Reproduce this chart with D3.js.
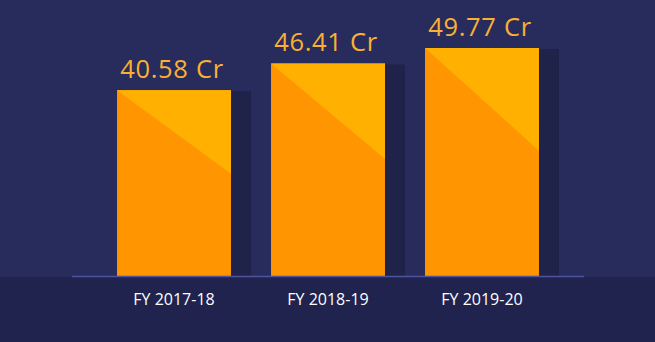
<!DOCTYPE html>
<html><head><meta charset="utf-8">
<script src="https://cdn.jsdelivr.net/npm/d3@7"></script>
<style>html,body{margin:0;padding:0;background:#272c5d;}svg{display:block;}</style>
</head><body>
<svg id="chart" width="655" height="342"></svg>
<script>
const categories = ["FY 2017-18", "FY 2018-19", "FY 2019-20"];
const values = [40.58, 46.41, 49.77];
const valueLabels = ["40.58 Cr", "46.41 Cr", "49.77 Cr"];

const W = 655, H = 342, baseY = 276;
const svg = d3.select("#chart");
const x = d3.scaleBand().domain(categories).range([97, 559]).paddingInner(0.26).paddingOuter(0.13);
const y = d3.scaleLinear().domain([0, 50]).range([baseY, 47]);

svg.append("rect").attr("x", 0).attr("y", 0).attr("width", W).attr("height", H).attr("fill", "#272c5d");
svg.append("rect").attr("x", 0).attr("y", baseY + 1).attr("width", W).attr("height", H - baseY - 1).attr("fill", "#20234e");

const g = svg.append("g");
const data = categories.map((c, i) => ({c, v: values[i], label: valueLabels[i]}));

// shadows
g.selectAll("rect.shadow").data(data).join("rect").attr("class", "shadow")
  .attr("x", d => x(d.c) + x.bandwidth()).attr("y", d => y(d.v) + 1)
  .attr("width", 20).attr("height", d => baseY - y(d.v) - 1).attr("fill", "#1f2249");

// bars (dark part)
g.selectAll("rect.bar").data(data).join("rect").attr("class", "bar")
  .attr("x", d => x(d.c)).attr("y", d => y(d.v))
  .attr("width", x.bandwidth()).attr("height", d => baseY - y(d.v)).attr("fill", "#ff9500");

// light triangle
g.selectAll("path.tri").data(data).join("path").attr("class", "tri")
  .attr("d", d => {
    const x0 = x(d.c), x1 = x0 + x.bandwidth(), y0 = y(d.v), h = baseY - y0;
    return `M${x0},${y0}L${x1},${y0}L${x1},${y0 + 0.45 * h}Z`;
  }).attr("fill", "#ffb000");

// baseline
svg.append("line").attr("x1", 72).attr("x2", 584).attr("y1", baseY + 0.5).attr("y2", baseY + 0.5)
  .attr("stroke", "#4d539c").attr("stroke-width", 1.5);

// value labels
g.selectAll("text.val").data(data).join("text").attr("class", "val")
  .attr("x", d => x(d.c) + x.bandwidth() / 2 - 2).attr("y", d => y(d.v) - 12)
  .attr("text-anchor", "middle").attr("font-family", "'Open Sans', sans-serif")
  .attr("font-size", 25.5).attr("letter-spacing", 0.7).attr("fill", "#fbb034").text(d => d.label);

// category labels
g.selectAll("text.cat").data(data).join("text").attr("class", "cat")
  .attr("x", d => x(d.c) + x.bandwidth() / 2).attr("y", 305)
  .attr("text-anchor", "middle").attr("font-family", "'Open Sans', sans-serif")
  .attr("font-size", 16).attr("fill", "#ffffff").text(d => d.c);
</script>
</body></html>
